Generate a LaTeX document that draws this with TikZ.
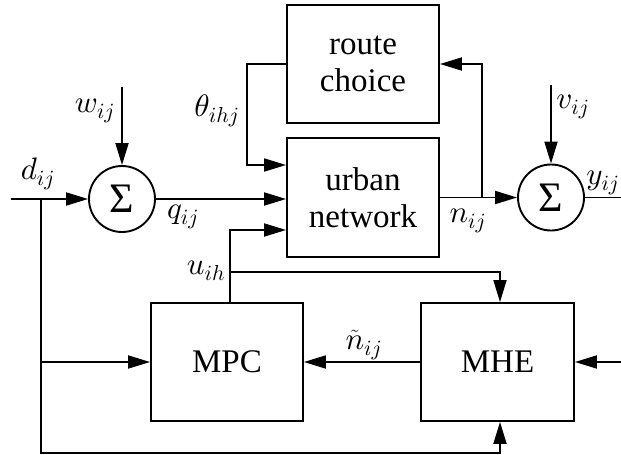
\documentclass[tikz,border=0pt]{standalone}
\usepackage{fontspec}
\setmainfont{Liberation Serif}
\usetikzlibrary{arrows.meta,calc}
% math letters: Computer Modern italic, freely scalable
\DeclareFontFamily{OML}{cmmfree}{\skewchar\font127}
\DeclareFontShape{OML}{cmmfree}{m}{it}{<->cmmi10}{}
\DeclareSymbolFont{letters}{OML}{cmmfree}{m}{it}
\DeclareFontFamily{OT1}{cmrfree}{\hyphenchar\font45}
\DeclareFontShape{OT1}{cmrfree}{m}{n}{<->cmr10}{}

\begin{document}
\begin{tikzpicture}[x=1pt,y=-1pt,
  every path/.style={line width=1.9pt},
  blk/.style={draw, rectangle, inner sep=0pt, font=\fontsize{33}{37}\selectfont, align=center},
  sumnode/.style={draw, circle, minimum size=66pt, inner sep=0pt, font=\fontsize{42}{42}\selectfont},
  arr/.style={-{Triangle[length=22pt,width=13pt]}},
  lbl/.style={inner sep=0pt, font=\fontsize{31}{31}\selectfont}]
\useasboundingbox (0,0) rectangle (621,455);

% blocks
\node[blk, minimum width=152pt, minimum height=118pt] (rc)  at (363,64)    {route\\choice};
\node[blk, minimum width=152pt, minimum height=119pt] (un)  at (363,197.5) {urban\\network};
\node[blk, minimum width=152pt, minimum height=118pt] (mpc) at (227,362)   {MPC};
\node[blk, minimum width=153pt, minimum height=118pt] (mhe) at (497.5,362) {MHE};

% summing junctions
\node[sumnode] (s1) at (122,199)   {Σ};
\node[sumnode] (s2) at (551,197.5) {Σ};

% free ends and branch points
\coordinate (din)    at (11,199);
\coordinate (dsplit) at (40.7,199);
\coordinate (dlow)   at (40.7,453);
\coordinate (wtop)   at (122,87);
\coordinate (vtop)   at (551,85);
\coordinate (yout)   at (621,197.5);
\coordinate (rin)    at (621,362);
\coordinate (nsplit) at (482,197.5);
\coordinate (uout)   at (230,303);
\coordinate (usplit) at (230,272);

% signal paths
\draw[arr] (din) -- (s1);
\draw[arr] (wtop) -- (s1);
\draw[arr] (s1) -- (un.west |- s1);
\draw[arr] (rc.west) -- ++(-39,0) |- ([yshift=32.5pt]un.west);
\draw[arr] (un.east) -- (s2);
\draw[arr] (nsplit) |- (rc.east);
\draw[arr] (vtop) -- (s2);
\draw (s2) -- (yout);
\draw[arr] (uout) |- ([yshift=-32.5pt]un.west);
\draw[arr] (usplit) -| ([xshift=2.5pt]mhe.north);
\draw[arr] (mhe.west) -- (mpc.east);
\draw[arr] (dsplit) |- (mpc.west);
\draw[arr] (dsplit) -- (dlow) -| ([xshift=2.5pt]mhe.south);
\draw[arr] (rin) -- (mhe.east);

% signal labels
\node[lbl] (ld)  at (38,174)  {$d_{ij}$};
\node[lbl] (lw)  at (95,111)  {$w_{ij}$};
\node[lbl] (lq)  at (183,217) {$q_{ij}$};
\node[lbl] (lth) at (217,111) {$\theta_{ihj}$};
\node[lbl] (lu)  at (206,271) {$u_{ih}$};
\node[lbl] (ln)  at (468,221) {$n_{ij}$};
\node[lbl] (lv)  at (573,107) {$v_{ij}$};
\node[lbl] (ly)  at (603,183) {$y_{ij}$};
\node[lbl] (lnt) at (364,345) {$\tilde{n}_{ij}$};
\end{tikzpicture}
\end{document}
